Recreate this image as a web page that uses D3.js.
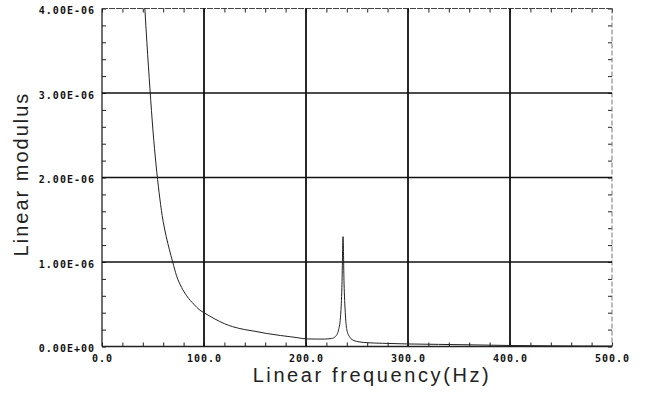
<!DOCTYPE html>
<html>
<head>
<meta charset="utf-8">
<script src="https://cdn.jsdelivr.net/npm/d3@7"></script>
<style>
  body { margin: 0; background: #fff; }
  svg { display: block; }
</style>
</head>
<body>
<div id="chart"></div>
<script>
// Chart size
var w = 645;
var h = 403;

// Frequency (Hz) of the points
var freqs = [42, 44, 47, 50, 53, 56, 59, 63, 66, 69.3, 73, 78, 83, 90, 96, 100, 110, 120, 128, 140, 150, 161, 175, 185, 194, 200, 210, 218, 225, 229, 232, 234, 235.2, 236.3, 237.3, 238.5, 240, 243, 247, 252, 260, 275, 300, 330, 360, 400, 440, 470, 500];
// Modulus in units of 1E-06
var modulus = [4.0, 3.6, 3.05, 2.55, 2.15, 1.82, 1.55, 1.3, 1.15, 1.0, 0.84, 0.7, 0.6, 0.5, 0.43, 0.4, 0.33, 0.27, 0.235, 0.2, 0.18, 0.155, 0.13, 0.115, 0.1, 0.09, 0.088, 0.088, 0.095, 0.12, 0.2, 0.38, 0.7, 1.3, 0.75, 0.4, 0.2, 0.11, 0.07, 0.055, 0.045, 0.038, 0.03, 0.025, 0.02, 0.012, 0.008, 0.006, 0.005];

// Tick labels
var xTicks = [0, 100, 200, 300, 400, 500];
var xTickLabels = ["0.0", "100.0", "200.0", "300.0", "400.0", "500.0"];
var yTicks = [0, 1, 2, 3, 4];
var yTickLabels = ["0.00E+00", "1.00E-06", "2.00E-06", "3.00E-06", "4.00E-06"];
var xMinor = d3.range(0, 501, 20);
var yMinor = d3.range(0, 4.01, 0.2);

var x = d3.scaleLinear().domain([0, 500]).range([102, 612]);
var y = d3.scaleLinear().domain([0, 4]).range([346.5, 8.5]);

var svg = d3.select("#chart")
    .append("svg")
    .attr("width", w)
    .attr("height", h);

// minor ticks pointing inward on all four sides
function minorAxis(axis, tr) {
    svg.append("g")
        .attr("transform", tr)
        .call(axis)
        .call(function(g) {
            g.select(".domain").remove();
            g.selectAll("text").remove();
            g.selectAll("line").attr("stroke", "#222").attr("stroke-width", 1);
        });
}
minorAxis(d3.axisBottom(x).tickValues(xMinor).tickSize(-4), "translate(0," + y(0) + ")");
minorAxis(d3.axisTop(x).tickValues(xMinor).tickSize(-4), "translate(0," + y(4) + ")");
minorAxis(d3.axisLeft(y).tickValues(yMinor).tickSize(-4), "translate(" + x(0) + ",0)");
minorAxis(d3.axisRight(y).tickValues(yMinor).tickSize(-4), "translate(" + x(500) + ",0)");

// frame
svg.append("line").attr("x1", x(0)).attr("x2", x(500)).attr("y1", y(4)).attr("y2", y(4))
    .attr("stroke", "#444").attr("stroke-width", 1).attr("stroke-dasharray", "6,1");
svg.append("line").attr("x1", x(500)).attr("x2", x(500)).attr("y1", y(4)).attr("y2", y(0))
    .attr("stroke", "#777").attr("stroke-width", 1).attr("stroke-dasharray", "5,2");
svg.append("line").attr("x1", x(0)).attr("x2", x(0)).attr("y1", y(4)).attr("y2", y(0))
    .attr("stroke", "#222").attr("stroke-width", 1.3);
svg.append("line").attr("x1", x(0)).attr("x2", x(500)).attr("y1", y(0)).attr("y2", y(0))
    .attr("stroke", "#222").attr("stroke-width", 1.3);

// grid lines
svg.selectAll(".vgrid")
    .data(xTicks.slice(1, -1))
    .enter()
    .append("line")
    .attr("x1", function(d) { return x(d); })
    .attr("x2", function(d) { return x(d); })
    .attr("y1", y(4))
    .attr("y2", y(0))
    .attr("stroke", "#111")
    .attr("stroke-width", 1.8);

svg.selectAll(".hgrid")
    .data(yTicks.slice(1, -1))
    .enter()
    .append("line")
    .attr("x1", x(0))
    .attr("x2", x(500))
    .attr("y1", function(d) { return y(d); })
    .attr("y2", function(d) { return y(d); })
    .attr("stroke", "#111")
    .attr("stroke-width", 1.5);

// tick labels
var tickFont = "'DejaVu Sans Mono', monospace";
svg.append("g")
    .attr("transform", "translate(0," + y(0) + ")")
    .call(d3.axisBottom(x).tickValues(xTicks).tickSize(0).tickPadding(8)
        .tickFormat(function(d, i) { return xTickLabels[i]; }))
    .call(function(g) {
        g.select(".domain").remove();
        g.selectAll("text")
            .attr("font-family", tickFont)
            .attr("font-size", 10)
            .attr("font-weight", "bold")
            .attr("letter-spacing", 1)
            .attr("fill", "#111");
    });

svg.append("g")
    .attr("transform", "translate(" + x(0) + ",0)")
    .call(d3.axisLeft(y).tickValues(yTicks).tickSize(0).tickPadding(7)
        .tickFormat(function(d, i) { return yTickLabels[i]; }))
    .call(function(g) {
        g.select(".domain").remove();
        g.selectAll("text")
            .attr("font-family", tickFont)
            .attr("font-size", 10)
            .attr("font-weight", "bold")
            .attr("letter-spacing", 1)
            .attr("dy", "0.5em")
            .attr("fill", "#111");
    });

// the curve
var line = d3.line()
    .x(function(d, i) { return x(freqs[i]); })
    .y(function(d) { return y(d); })
    .curve(d3.curveMonotoneX);

svg.append("path")
    .datum(modulus)
    .attr("d", line)
    .attr("fill", "none")
    .attr("stroke", "#222")
    .attr("stroke-width", 1);

// axis titles
svg.append("text")
    .attr("x", 372)
    .attr("y", 382)
    .attr("text-anchor", "middle")
    .attr("font-family", "'Liberation Sans', Arial, sans-serif")
    .attr("font-size", 20)
    .attr("letter-spacing", 2.6)
    .attr("fill", "#222")
    .text("Linear frequency(Hz)");

svg.append("text")
    .attr("transform", "translate(28,174) rotate(-90)")
    .attr("text-anchor", "middle")
    .attr("font-family", "'Liberation Sans', Arial, sans-serif")
    .attr("font-size", 20)
    .attr("letter-spacing", 2)
    .attr("fill", "#222")
    .text("Linear modulus");
</script>
</body>
</html>
